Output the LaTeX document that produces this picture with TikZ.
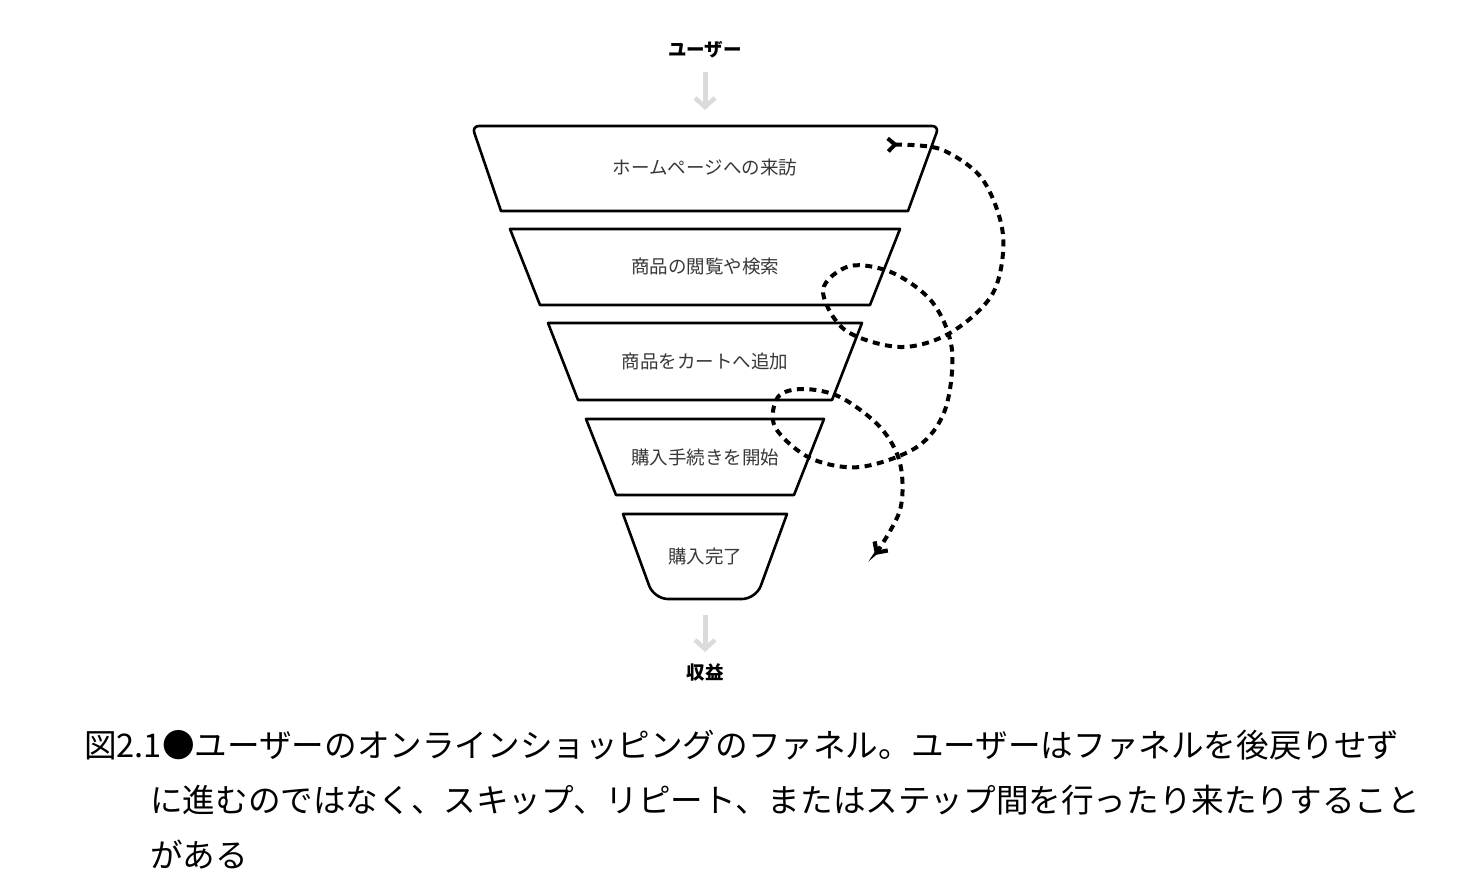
\documentclass[tikz,border=0pt]{standalone}
\usepackage{fontspec}
\setmainfont{Noto Sans CJK JP}
\usetikzlibrary{arrows.meta}

\begin{document}
\begin{tikzpicture}[
  x=1pt, y=-1pt,
  stage/.style={draw=black, line width=2.6pt, line join=round, fill=white},
  stagetext/.style={font=\fontsize{18.5}{20}\selectfont, text=black!78},
  endlabel/.style={font=\fontsize{18.5}{20}\selectfont\bfseries},
  flow/.style={-{Straight Barb[length=9pt, width=20pt, line width=4.5pt]},
    line width=5pt, draw=black!14},
  backloop/.style={{Straight Barb[reversed, length=7pt, width=13pt, line width=4pt]}-{Straight Barb[length=8pt, width=16pt, line width=4.2pt]},
    line width=4pt, dash pattern=on 7pt off 5.5pt},
  caption/.style={font=\fontsize{32.6}{34}\selectfont, anchor=base west, inner sep=0pt}
]
\useasboundingbox (0,0) rectangle (1476,896);

% Funnel stages (top to bottom)
\draw[stage] (501,211) [rounded corners=7pt] -- (472,126) -- (939,126) [sharp corners] -- (908,211) -- cycle;
\draw[stage] (510,229) -- (900,229) -- (870,305) -- (540,305) -- cycle;
\draw[stage] (548,323) -- (862,323) -- (832,400) -- (578,400) -- cycle;
\draw[stage] (586,419) -- (824,419) -- (794,495) -- (616,495) -- cycle;
\draw[stage] (787,514) [rounded corners=14pt] -- (756,599) -- (654,599) [sharp corners] -- (623,514) -- cycle;

\node[stagetext] (visit)    at (705,167) {ホームページへの来訪};
\node[stagetext] (browse)   at (705,267) {商品の閲覧や検索};
\node[stagetext] (cart)     at (705,361) {商品をカートへ追加};
\node[stagetext] (checkout) at (705,457) {購入手続きを開始};
\node[stagetext] (done)     at (705,556) {購入完了};

% In and out of the funnel
\node[endlabel] (user)    at (705,50)  {ユーザー};
\node[endlabel] (revenue) at (705,672) {収益};
\coordinate (funneltop) at (705,110);
\coordinate (funnelout) at (705,615);
\draw[flow] (user.south) ++(0,10) -- (funneltop);
\draw[flow] (funnelout) -- ++(0,37);

% Skips and repeats between the steps
\draw[backloop] plot[smooth, tension=0.55] coordinates {
  (886,145) (912,145) (945,151) (983,180) (1003,235) (993,293) (950,333) (900,347)
  (845,330) (823,290) (850,266) (893,273) (933,303) (952,350) (945,410)
  (917,447) (860,467) (810,458) (775,427) (778,397) (803,389) (840,397)
  (880,427) (900,463) (900,510) (875,555)};

% Caption
\node[caption] (cap1) at (84,757)  {図2.1●ユーザーのオンラインショッピングのファネル。ユーザーはファネルを後戻りせず};
\node[caption] (cap2) at (150,812) {に進むのではなく、スキップ、リピート、またはステップ間を行ったり来たりすること};
\node[caption] (cap3) at (150,867) {がある};
\end{tikzpicture}
\end{document}
